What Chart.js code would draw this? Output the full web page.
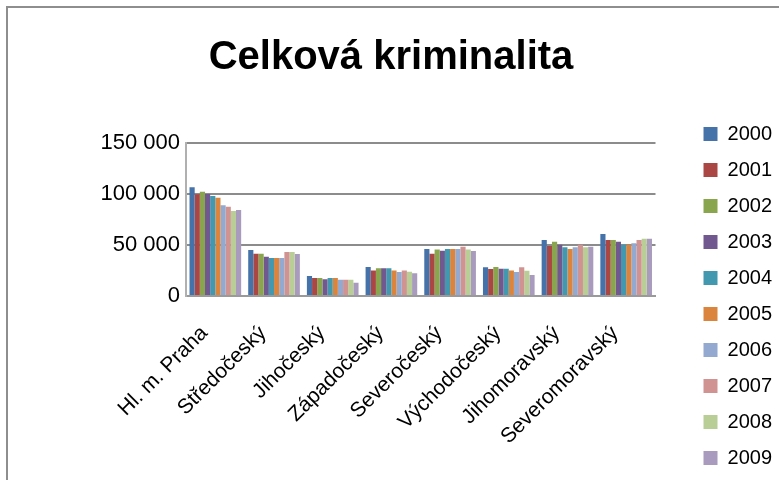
<!DOCTYPE html>
<html>
<head>
<meta charset="utf-8">
<script src="https://cdn.jsdelivr.net/npm/chart.js@4/dist/chart.umd.min.js"></script>
<style>
  html, body { margin: 0; padding: 0; background: #fff; overflow: hidden; }
  #wrap { position: relative; width: 779px; height: 480px; }
  #frame { position: absolute; left: 6px; top: 6px; width: 900px; height: 600px; border: 2px solid #8e8e8e; box-sizing: border-box; }
  canvas { position: absolute; left: 0; top: 0; }
</style>
</head>
<body>
<div id="wrap">
  <div id="frame"></div>
  <canvas id="crimeChart" width="779" height="480"></canvas>
</div>
<script>
// regions (kraje)
var regions = ['Hl. m. Praha', 'Středočeský', 'Jihočeský', 'Západočeský', 'Severočeský',
               'Východočeský', 'Jihomoravský', 'Severomoravský'];
var years = ['2000', '2001', '2002', '2003', '2004', '2005', '2006', '2007', '2008', '2009'];
var yTicks = [0, 50000, 100000, 150000];

// one array per year, values per region
var v2000 = [106500, 45100, 19600, 28400, 46000, 28100, 54900, 60800];
var v2001 = [99700, 41500, 17600, 25100, 41500, 26500, 49000, 54900];
var v2002 = [102200, 41500, 17600, 27100, 45700, 28400, 53200, 54900];
var v2003 = [100000, 38500, 16300, 27100, 44400, 26800, 50300, 53200];
var v2004 = [98000, 37200, 17600, 27100, 46000, 26800, 47700, 50300];
var v2005 = [96300, 37200, 17600, 25100, 46000, 25100, 46000, 50300];
var v2006 = [88900, 37200, 16000, 23500, 46000, 23500, 47700, 51600];
var v2007 = [87500, 43100, 16000, 25100, 48300, 28100, 50300, 54900];
var v2008 = [83300, 43100, 16000, 23800, 45700, 24800, 47700, 56200];
var v2009 = [84300, 41200, 13100, 22200, 44100, 20600, 48300, 56200];

var values = [v2000, v2001, v2002, v2003, v2004, v2005, v2006, v2007, v2008, v2009];
var colors = ['#4672AA', '#AA4643', '#89A54E', '#71588F', '#4198AF',
              '#DB843D', '#93A9CF', '#D19392', '#B9CD96', '#A99BBD'];

var font = "'Liberation Sans', 'Open Sans', sans-serif";

var datasets = years.map(function (y, i) {
    return {
        label: y,
        data: values[i],
        backgroundColor: colors[i],
        borderWidth: 0,
        barPercentage: 1.0,
        categoryPercentage: 0.88
    };
});

new Chart(document.getElementById('crimeChart'), {
    type: 'bar',
    data: { labels: regions, datasets: datasets },
    options: {
        responsive: false,
        animation: false,
        layout: { padding: { right: -3, bottom: -4 } },
        plugins: {
            title: {
                display: true,
                text: 'Celková kriminalita',
                color: '#000',
                font: { family: font, size: 40, weight: 'bold' },
                padding: { top: 34, bottom: 61 }
            },
            legend: {
                position: 'right',
                align: 'end',
                labels: {
                    color: '#000',
                    font: { family: font, size: 20 },
                    boxWidth: 14,
                    boxHeight: 14,
                    padding: 16
                }
            },
            tooltip: { enabled: false }
        },
        scales: {
            x: {
                grid: { display: false },
                border: { color: '#9a9a9a', width: 2 },
                ticks: {
                    color: '#000',
                    font: { family: font, size: 21 },
                    minRotation: 45,
                    maxRotation: 45,
                    autoSkip: false,
                    padding: 17,
                    labelOffset: -11
                },
                afterFit: function (s) { s.height = 188; }
            },
            y: {
                min: 0,
                max: 150000,
                afterBuildTicks: function (s) {
                    s.ticks = yTicks.map(function (v) { return { value: v }; });
                },
                grid: { color: '#8c8c8c', lineWidth: 2, drawTicks: false },
                border: { color: '#b0b0b0', width: 2 },
                ticks: {
                    color: '#000',
                    font: { family: font, size: 22 },
                    padding: 6,
                    callback: function (v) {
                        return v === 0 ? '0' : String(v).replace(/\B(?=(\d{3})+(?!\d))/g, ' ');
                    }
                },
                afterFit: function (s) { s.width = 186; }
            },
            // empty axis on the right, only keeps space between plot and legend
            gap: {
                position: 'right',
                display: true,
                grid: { display: false },
                border: { display: false },
                ticks: { display: false },
                afterFit: function (s) { s.width = 32; }
            }
        }
    }
});
</script>
</body>
</html>
